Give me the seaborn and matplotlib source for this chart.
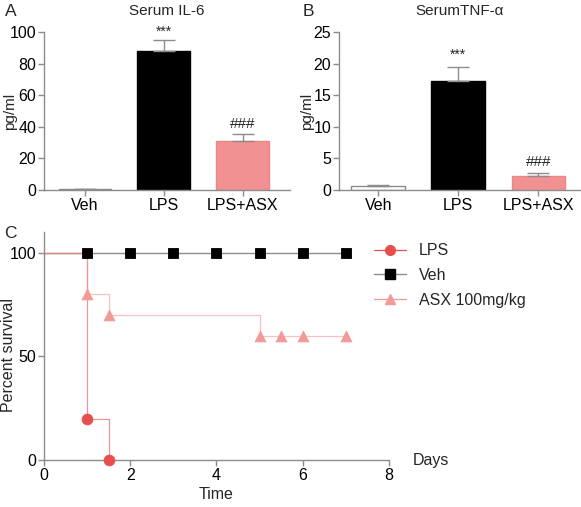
import matplotlib
matplotlib.use("Agg")
import matplotlib.pyplot as plt
import seaborn as sns
from matplotlib.lines import Line2D

# data
groups = ["Veh", "LPS", "LPS+ASX"]
il6_mean = [0.5, 88, 31]
il6_err = [0.3, 7, 4.5]
tnf_mean = [0.7, 17.2, 2.2]
tnf_err = [0.15, 2.3, 0.5]

lps_t = [0, 1, 1.5]
lps_s = [100, 20, 0]
lps_mark_t = [1, 1.5]
lps_mark_s = [20, 0]

veh_t = [0, 7]
veh_s = [100, 100]
veh_mark_t = [1, 2, 3, 4, 5, 6, 7]
veh_mark_s = [100, 100, 100, 100, 100, 100, 100]

asx_t = [0, 1, 1.5, 5, 7]
asx_s = [100, 80, 70, 60, 60]
asx_mark_t = [1, 1.5, 5, 5.5, 6, 7]
asx_mark_s = [80, 70, 60, 60, 60, 60]

sns.set_style("ticks")
plt.rcParams["font.family"] = ["Liberation Sans", "DejaVu Sans"]

RED = "#E84E4C"
SALMON = "#F29191"
TRI = "#F29A98"
GRAY = "#8C8C8C"
bar_colors = ["white", "black", SALMON]
edge_colors = [GRAY, "black", "#E88886"]
err_colors = [GRAY, GRAY, GRAY]

W, H = 581, 507
fig = plt.figure(figsize=(W / 100, H / 100), dpi=100)


def px_axes(left, top, right, bottom):
    return fig.add_axes([left / W, 1 - bottom / H, (right - left) / W, (bottom - top) / H])


def style_axes(ax):
    sns.despine(ax=ax)
    for s in ["left", "bottom"]:
        ax.spines[s].set_color(GRAY)
        ax.spines[s].set_linewidth(1.0)
    ax.tick_params(colors=GRAY, labelcolor="black", labelsize=11.5, length=4, width=1, pad=1.5)


def bar_panel(ax, means, errs, ylim, yticks, title, stars_y, hash_y, xlim, label_x):
    sns.barplot(x=groups, y=means, hue=groups, palette=bar_colors, width=0.67,
                saturation=1, legend=False, ax=ax, linewidth=1.0)
    for patch, ec in zip(ax.patches, edge_colors):
        patch.set_edgecolor(ec)
    for i, (m, e) in enumerate(zip(means, errs)):
        ax.errorbar(i, m, yerr=[[0], [e]], fmt="none", ecolor=err_colors[i],
                    elinewidth=1.0, capsize=8, capthick=1.0)
    ax.set_ylim(*ylim)
    ax.set_yticks(yticks)
    ax.set_xlim(*xlim)
    ax.set_ylabel("pg/ml", fontsize=11)
    ax.yaxis.set_label_coords(label_x, 0.5)
    ax.set_title(title, fontsize=11, pad=12)
    ax.text(1, stars_y, "***", ha="center", va="bottom", fontsize=10)
    ax.text(2, hash_y, "###", ha="center", va="bottom", fontsize=11)
    style_axes(ax)


axA = px_axes(44, 32, 290, 190)
bar_panel(axA, il6_mean, il6_err, (0, 100), [0, 20, 40, 60, 80, 100],
          "Serum IL-6", 96, 37.5, (-0.52, 2.6), -0.11)

axB = px_axes(339, 32, 580, 190)
bar_panel(axB, tnf_mean, tnf_err, (0, 25), [0, 5, 10, 15, 20, 25],
          "SerumTNF-α", 20.3, 3.3, (-0.49, 2.52), -0.105)

# survival
axC = px_axes(44, 232, 389, 460)
axC.plot(veh_t, veh_s, color=GRAY, lw=1.0, zorder=1)
axC.step(lps_t, lps_s, where="post", color=RED, lw=0.9, alpha=0.6, zorder=2)
axC.step(asx_t, asx_s, where="post", color=TRI, lw=0.9, alpha=0.6, zorder=2)
sns.scatterplot(x=veh_mark_t, y=veh_mark_s, marker="s", color="black", s=60,
                edgecolor="black", ax=axC, zorder=3, clip_on=False)
sns.scatterplot(x=asx_mark_t, y=asx_mark_s, marker="^", color=TRI, s=60,
                edgecolor=TRI, ax=axC, zorder=3, clip_on=False)
sns.scatterplot(x=lps_mark_t, y=lps_mark_s, marker="o", color=RED, s=60,
                edgecolor=RED, ax=axC, zorder=3, clip_on=False)
axC.set_xlim(0, 8)
axC.set_ylim(0, 110)
axC.set_xticks([0, 2, 4, 6, 8])
axC.set_yticks([0, 50, 100])
axC.set_xlabel("Time", fontsize=11.5, labelpad=3)
axC.set_ylabel("Percent survival", fontsize=11.5)
axC.yaxis.set_label_coords(-0.08, 0.46)
style_axes(axC)
axC.text(1.07, 0.0, "Days", transform=axC.transAxes, fontsize=11.5, va="center")

# panel letters
for letter, x, y in [("A", 5, 4), ("B", 303, 4), ("C", 4, 226)]:
    fig.text(x / W, 1 - y / H, letter, fontsize=12.5, va="top", ha="left")

handles = [
    Line2D([], [], color=RED, lw=0.9, marker="o", markersize=7),
    Line2D([], [], color=GRAY, lw=1.0, marker="s", markersize=7,
           markerfacecolor="black", markeredgecolor="black"),
    Line2D([], [], color=TRI, lw=0.9, marker="^", markersize=7),
]
fig.legend(handles, ["LPS", "Veh", "ASX 100mg/kg"], loc="upper left",
           bbox_to_anchor=(360 / W, 1 - 229 / H), frameon=False, fontsize=11.5,
           handlelength=2.0, handletextpad=0.8, labelspacing=0.6)

fig.savefig("out.png", dpi=100)
